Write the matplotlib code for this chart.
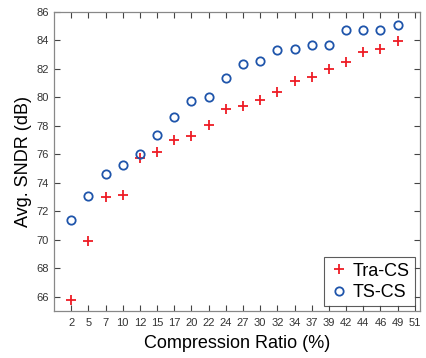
import matplotlib
matplotlib.use("Agg")
import matplotlib.pyplot as plt
import numpy as np

# x-axis is categorical: compression ratio labels
ratios = [2, 5, 7, 10, 12, 15, 17, 20, 22, 24, 27, 30, 32, 34, 37, 39, 42, 44, 46, 49]
tick_labels = ['2', '5', '7', '10', '12', '15', '17', '20', '22', '24', '27',
               '30', '32', '34', '37', '39', '42', '44', '46', '49', '51']
tra_cs = [65.75, 69.93, 73.0, 73.16, 75.73, 76.2, 77.02, 77.3, 78.05, 79.17,
          79.4, 79.82, 80.4, 81.14, 81.44, 82.02, 82.49, 83.17, 83.38, 83.94]
ts_cs = [71.4, 73.09, 74.61, 75.22, 76.01, 77.37, 78.63, 79.75, 80.06, 81.39,
         82.37, 82.58, 83.31, 83.38, 83.71, 83.71, 84.71, 84.71, 84.71, 85.09]

plt.rcParams['font.family'] = ['Arial', 'Liberation Sans', 'DejaVu Sans']

fig = plt.figure(figsize=(4.26, 3.58), dpi=100)
ax = fig.add_axes([54 / 426, 1 - 311 / 358, 366 / 426, 299 / 358])

pos = np.arange(1, len(ratios) + 1)
ax.plot(pos, tra_cs, linestyle='none', marker='+', markersize=7, markeredgewidth=1.3,
        color='#ee1c25', label='Tra-CS')
ax.plot(pos, ts_cs, linestyle='none', marker='o', markersize=6, markeredgewidth=1.3,
        markerfacecolor='none', color='#1f55ab', label='TS-CS')

ax.set_xlim(0, 21.3)
ax.set_ylim(65, 86)
ax.set_xticks(np.arange(1, len(tick_labels) + 1))
ax.set_xticklabels(tick_labels)
ax.set_yticks(np.arange(66, 87, 2))

for s in ax.spines.values():
    s.set_color('#888888')
    s.set_linewidth(0.9)
ax.tick_params(direction='in', top=True, right=True, length=4, width=0.8,
               color='#444444', labelsize=8, labelcolor='#333333')
ax.tick_params(axis='x', pad=5)

ax.set_xlabel('Compression Ratio (%)', fontsize=13, labelpad=5)
ax.set_ylabel('Avg. SNDR (dB)', fontsize=13, labelpad=3)

leg = ax.legend(loc='lower right', fontsize=13, frameon=True, fancybox=False,
                handletextpad=0.3, handlelength=1.0, borderpad=0.3,
                labelspacing=0.25, borderaxespad=0.25)
leg.get_frame().set_edgecolor('#333333')
leg.get_frame().set_linewidth(0.8)

fig.savefig('out.png', dpi=100)
